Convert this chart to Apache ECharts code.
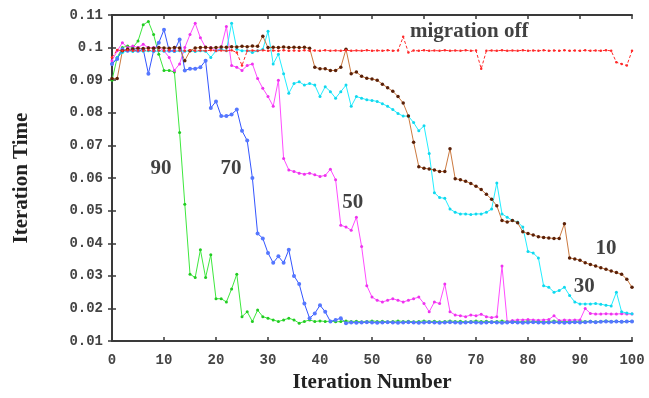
<!DOCTYPE html>
<html>
<head>
<meta charset="utf-8">
<script src="https://cdn.jsdelivr.net/npm/echarts@6/dist/echarts.min.js"></script>
<style>
  html, body { margin: 0; padding: 0; background: #fff; }
  #chart { width: 649px; height: 398px; }
</style>
</head>
<body>
<div id="chart"></div>
<script>
// iteration 0..100
const iterations = Array.from({ length: 101 }, (_, i) => i);

const migOff = [
  0.0970, 0.0993, 0.0990, 0.0992, 0.0990, 0.0991, 0.0990, 0.0992, 0.0990, 0.0991,
  0.0990, 0.0992, 0.0990, 0.0991, 0.0990, 0.0992, 0.0990, 0.0991, 0.0990, 0.0992,
  0.0990, 0.0991, 0.0990, 0.0992, 0.0985, 0.0945, 0.0990, 0.0991, 0.0990, 0.0992,
  0.0990, 0.0991, 0.0990, 0.0992, 0.0990, 0.0991, 0.0990, 0.0992, 0.0990, 0.0991,
  0.0990, 0.0992, 0.0990, 0.0991, 0.0990, 0.0992, 0.0990, 0.0991, 0.0990, 0.0992,
  0.0990, 0.0991, 0.0990, 0.0992, 0.0990, 0.0991, 0.1033, 0.0985, 0.0991, 0.0990,
  0.0992, 0.0990, 0.0991, 0.0990, 0.0992, 0.0990, 0.0991, 0.0990, 0.0992, 0.0990,
  0.0991, 0.0935, 0.0990, 0.0991, 0.0990, 0.0992, 0.0990, 0.0991, 0.0990, 0.0992,
  0.0990, 0.0991, 0.0990, 0.0992, 0.0990, 0.0991, 0.0990, 0.0992, 0.0990, 0.0991,
  0.0990, 0.0992, 0.0990, 0.0991, 0.0990, 0.0992, 0.0990, 0.0955, 0.0950, 0.0945,
  0.0990
];

const mig10 = [
  0.0905, 0.0905, 0.0990, 0.0995, 0.0996, 0.0998, 0.0997, 0.0999, 0.0998, 0.1000,
  0.0999, 0.0998, 0.1000, 0.0999, 0.0960, 0.0990, 0.0999, 0.1000, 0.1001, 0.0999,
  0.1000, 0.1002, 0.1001, 0.1003, 0.1002, 0.1004, 0.1003, 0.1005, 0.1004, 0.1035,
  0.1000, 0.1001, 0.1000, 0.1002, 0.1000, 0.1001, 0.1000, 0.1001, 0.0998, 0.0940,
  0.0935, 0.0935, 0.0930, 0.0930, 0.0940, 0.0995, 0.0920, 0.0925, 0.0912, 0.0906,
  0.0904, 0.0900, 0.0888, 0.0877, 0.0866, 0.0850, 0.0830, 0.0790, 0.0710, 0.0635,
  0.0630, 0.0628, 0.0625, 0.0620, 0.0620, 0.0690, 0.0598, 0.0595, 0.0590, 0.0583,
  0.0575, 0.0565, 0.0550, 0.0535, 0.0515, 0.0470, 0.0465, 0.0470, 0.0463, 0.0435,
  0.0430, 0.0425, 0.0420, 0.0418, 0.0416, 0.0415, 0.0415, 0.0460, 0.0355, 0.0352,
  0.0348, 0.0340, 0.0335, 0.0330, 0.0325, 0.0320, 0.0315, 0.0310, 0.0305, 0.0290,
  0.0265
];

const mig30 = [
  0.0950, 0.0970, 0.0985, 0.0990, 0.0988, 0.0990, 0.0989, 0.0990, 0.0988, 0.0990,
  0.0989, 0.0990, 0.0988, 0.0990, 0.0989, 0.0990, 0.0988, 0.0990, 0.0989, 0.0970,
  0.0990, 0.0995, 0.0990, 0.1075, 0.0995, 0.0990, 0.0990, 0.0985, 0.0990, 0.0995,
  0.1050, 0.0950, 0.0980, 0.0920, 0.0860, 0.0890, 0.0895, 0.0885, 0.0890, 0.0885,
  0.0850, 0.0880, 0.0865, 0.0845, 0.0865, 0.0885, 0.0820, 0.0850, 0.0845, 0.0840,
  0.0838, 0.0835, 0.0828, 0.0820, 0.0810, 0.0798, 0.0790, 0.0790, 0.0770, 0.0745,
  0.0760, 0.0675, 0.0555, 0.0540, 0.0538, 0.0505, 0.0495, 0.0490, 0.0490, 0.0488,
  0.0490, 0.0490, 0.0495, 0.0505, 0.0585, 0.0490, 0.0480, 0.0470, 0.0465, 0.0450,
  0.0375, 0.0370, 0.0355, 0.0270, 0.0265, 0.0250, 0.0255, 0.0265, 0.0240, 0.0220,
  0.0214, 0.0214, 0.0214, 0.0215, 0.0213, 0.0210, 0.0208, 0.0250, 0.0190, 0.0186,
  0.0184
];

const mig50 = [
  0.0960, 0.0990, 0.1015, 0.1000, 0.1005, 0.1000, 0.1010, 0.1000, 0.1000, 0.1000,
  0.0990, 0.0970, 0.0930, 0.0950, 0.1000, 0.1040, 0.1075, 0.1030, 0.1000, 0.1000,
  0.0990, 0.1000, 0.1065, 0.0945, 0.0940, 0.0930, 0.0945, 0.0950, 0.0905, 0.0875,
  0.0850, 0.0820, 0.0900, 0.0660, 0.0625, 0.0620, 0.0615, 0.0612, 0.0615, 0.0610,
  0.0605, 0.0608, 0.0627, 0.0595, 0.0455, 0.0450, 0.0440, 0.0480, 0.0390, 0.0270,
  0.0235, 0.0225, 0.0220, 0.0225, 0.0230, 0.0225, 0.0220, 0.0225, 0.0230, 0.0235,
  0.0215, 0.0190, 0.0220, 0.0215, 0.0275, 0.0190, 0.0180, 0.0178, 0.0175, 0.0180,
  0.0178, 0.0182, 0.0175, 0.0172, 0.0175, 0.0330, 0.0160, 0.0163, 0.0165, 0.0165,
  0.0166, 0.0165, 0.0164, 0.0165, 0.0166, 0.0178, 0.0163, 0.0165, 0.0164, 0.0165,
  0.0165, 0.0200, 0.0185, 0.0183, 0.0183, 0.0184, 0.0183, 0.0183, 0.0184, 0.0183,
  0.0183
];

const mig70 = [
  0.0950, 0.0965, 0.0995, 0.0990, 0.0995, 0.0990, 0.0995, 0.0920, 0.0990, 0.1015,
  0.1055, 0.0990, 0.0990, 0.1025, 0.0930, 0.0935, 0.0935, 0.0940, 0.0960, 0.0815,
  0.0835, 0.0790, 0.0790, 0.0795, 0.0810, 0.0745, 0.0715, 0.0600, 0.0430, 0.0415,
  0.0370, 0.0340, 0.0360, 0.0340, 0.0380, 0.0300, 0.0275, 0.0215, 0.0170, 0.0185,
  0.0210, 0.0190, 0.0160, 0.0165, 0.0170, 0.0155, 0.0157, 0.0156, 0.0157, 0.0158,
  0.0157, 0.0156, 0.0157, 0.0158, 0.0157, 0.0156, 0.0157, 0.0158, 0.0157, 0.0156,
  0.0157, 0.0158, 0.0157, 0.0156, 0.0157, 0.0158, 0.0157, 0.0156, 0.0157, 0.0158,
  0.0157, 0.0156, 0.0157, 0.0158, 0.0157, 0.0156, 0.0157, 0.0158, 0.0157, 0.0156,
  0.0157, 0.0158, 0.0157, 0.0156, 0.0157, 0.0158, 0.0157, 0.0156, 0.0157, 0.0158,
  0.0157, 0.0158, 0.0159, 0.0158, 0.0159, 0.0160, 0.0159, 0.0160, 0.0159, 0.0160,
  0.0160
];

const mig90 = [
  0.0900, 0.0970, 0.1000, 0.1005, 0.1000, 0.1020, 0.1070, 0.1080, 0.1040, 0.0980,
  0.0930, 0.0930, 0.0925, 0.0740, 0.0520, 0.0305, 0.0295, 0.0380, 0.0295, 0.0365,
  0.0230, 0.0230, 0.0220, 0.0260, 0.0305, 0.0175, 0.0190, 0.0160, 0.0195, 0.0175,
  0.0170, 0.0165, 0.0160, 0.0165, 0.0170, 0.0165, 0.0155, 0.0160, 0.0165, 0.0160,
  0.0162, 0.0160, 0.0161, 0.0159, 0.0160, 0.0162, 0.0160, 0.0161, 0.0159, 0.0160,
  0.0162, 0.0160, 0.0161, 0.0159, 0.0160, 0.0162, 0.0160, 0.0161, 0.0159, 0.0160,
  0.0162, 0.0160, 0.0161, 0.0159, 0.0160, 0.0162, 0.0160, 0.0161, 0.0159, 0.0160,
  0.0162, 0.0160, 0.0161, 0.0159, 0.0160, 0.0162, 0.0160, 0.0161, 0.0159, 0.0160,
  0.0162, 0.0160, 0.0161, 0.0159, 0.0160, 0.0162, 0.0160, 0.0161, 0.0159, 0.0160,
  0.0162, 0.0160, 0.0161, 0.0159, 0.0160, 0.0162, 0.0160, 0.0161, 0.0159, 0.0160,
  0.0161
];

// in-plot labels: [iteration, time, text]
const notes = [
  [68.7, 0.1049, 'migration off'],
  [9.4, 0.0629, '90'],
  [22.9, 0.0629, '70'],
  [46.3, 0.0526, '50'],
  [95.0, 0.0385, '10'],
  [90.8, 0.0268, '30']
];

const chart = echarts.init(document.getElementById('chart'));

const pair = arr => iterations.map((x, i) => [x, arr[i]]);

function lineSeries(name, arr, color, markColor, size, dash) {
  return {
    name: name,
    type: 'line',
    data: pair(arr),
    symbol: 'circle',
    symbolSize: size,
    showSymbol: true,
    lineStyle: { color: color, width: 1, type: dash || 'solid' },
    itemStyle: { color: markColor },
    z: 2
  };
}

const axisLine = { show: true, lineStyle: { color: '#3a3a3a', width: 2 } };
const tickFont = { fontFamily: 'Liberation Mono', fontWeight: 'bold', fontSize: 14, color: '#444' };

chart.setOption({
  animation: false,
  backgroundColor: '#fff',
  grid: { left: 112, right: 17, top: 15, bottom: 50 },
  xAxis: [
    {
      type: 'value', min: 0, max: 100, interval: 10,
      name: 'Iteration Number', nameLocation: 'middle', nameGap: 24,
      nameTextStyle: { fontFamily: 'Liberation Serif', fontWeight: 'bold', fontSize: 21, color: '#222' },
      axisLine: axisLine,
      axisTick: { inside: true, length: 4, lineStyle: { color: '#3a3a3a', width: 1.5 } },
      axisLabel: Object.assign({ margin: 12 }, tickFont),
      splitLine: { show: false }
    },
    {
      type: 'value', min: 0, max: 100, interval: 10, position: 'top',
      axisLine: axisLine,
      axisTick: { inside: true, length: 4, lineStyle: { color: '#3a3a3a', width: 1.5 } },
      axisLabel: { show: false },
      splitLine: { show: false }
    }
  ],
  yAxis: [
    {
      type: 'value', min: 0.01, max: 0.11, interval: 0.01,
      name: 'Iteration Time', nameLocation: 'middle', nameGap: 80, nameRotate: 90,
      nameTextStyle: { fontFamily: 'Liberation Serif', fontWeight: 'bold', fontSize: 21, color: '#222' },
      axisLine: axisLine,
      axisTick: { inside: true, length: 4, lineStyle: { color: '#3a3a3a', width: 1.5 } },
      axisLabel: Object.assign({ margin: 9, formatter: v => String(+v.toFixed(2)) }, tickFont),
      splitLine: { show: false }
    },
    {
      type: 'value', min: 0.01, max: 0.11, interval: 0.01, position: 'right',
      axisLine: axisLine,
      axisTick: { inside: true, length: 4, lineStyle: { color: '#3a3a3a', width: 1.5 } },
      axisLabel: { show: false },
      splitLine: { show: false }
    }
  ],
  series: [
    lineSeries('90', mig90, '#3ee83e', '#22cc22', 3),
    lineSeries('50', mig50, '#ff4cff', '#ee33ee', 3),
    lineSeries('30', mig30, '#22eeff', '#11d8ee', 3),
    lineSeries('70', mig70, '#3355ff', '#5577ff', 4),
    lineSeries('10', mig10, '#cc7a40', '#5a2008', 3.5),
    lineSeries('migration off', migOff, '#ff2a2a', '#ff2a2a', 2.5, [3, 2]),
    {
      type: 'scatter',
      data: notes,
      symbolSize: 0,
      silent: true,
      z: 5,
      label: {
        show: true,
        position: 'inside',
        formatter: p => p.data[2],
        fontFamily: 'Liberation Serif',
        fontWeight: 'bold',
        fontSize: 21,
        color: '#111'
      }
    }
  ]
});
</script>
</body>
</html>
